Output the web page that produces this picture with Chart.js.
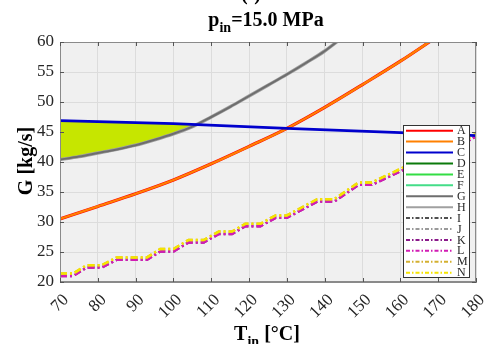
<!DOCTYPE html>
<html>
<head>
<meta charset="utf-8">
<script src="https://cdn.jsdelivr.net/npm/chart.js@4.4.1/dist/chart.umd.min.js"></script>
<style>
  body { margin: 0; background: #ffffff; }
  #wrap { width: 491px; height: 344px; }
</style>
</head>
<body>
<div id="wrap"><canvas id="chart" width="491" height="344"></canvas></div>
<script>
// Valores (T_in em °C, G em kg/s)
const xTickVals = [70, 80, 90, 100, 110, 120, 130, 140, 150, 160, 170, 180];
const yTickVals = [20, 25, 30, 35, 40, 45, 50, 55, 60];

const curveBT = [70, 80, 90, 100, 110, 120, 130, 140, 150, 160, 170];
const curveBG = [30.5, 32.6, 34.7, 37.0, 39.7, 42.6, 45.6, 49.1, 52.9, 56.8, 61.0];

const curveCT = [70, 100, 130, 160, 180];
const curveCG = [46.9, 46.4, 45.6, 44.9, 44.4];

const curveGT = [70, 75, 80, 85, 90, 95, 100, 105, 110, 115, 120, 125, 130, 135, 140, 145];
const curveGG = [40.4, 40.9, 41.5, 42.1, 42.8, 43.7, 44.7, 45.9, 47.5, 49.2, 51.0, 52.8, 54.6, 56.5, 58.5, 60.9];

const stepT  = [70, 73.5, 77, 81, 85, 93, 96.5, 100, 104, 108, 112, 115.5, 119, 123, 127, 130, 138, 142.5, 149, 152.5, 160.5, 163, 167, 173, 176.5, 180];
const stepKL = [21.0, 21.0, 22.4, 22.4, 23.7, 23.7, 25.1, 25.1, 26.6, 26.6, 28.0, 28.0, 29.3, 29.3, 30.7, 30.7, 33.4, 33.4, 36.2, 36.2, 38.6, 39.4, 39.4, 42.0, 43.0, 44.3];
const stepMN = [21.4, 21.4, 22.8, 22.8, 24.1, 24.1, 25.5, 25.5, 27.0, 27.0, 28.4, 28.4, 29.7, 29.7, 31.1, 31.1, 33.8, 33.8, 36.6, 36.6, 39.0, 39.8, 39.8, 42.4, 43.4, 44.7];

const serif = "'Liberation Serif', 'Times New Roman', serif";
const fillColor = '#c6e600';

// monta pares {x, y}
const pts = (xs, ys) => xs.map((x, i) => ({ x: x, y: ys[i] }));

const dashDot = [7, 3, 2, 3];

function serie(label, color, data, extra = {}) {
  return Object.assign({
    label: label,
    data: data,
    borderColor: color,
    backgroundColor: color,
    borderWidth: 2.5,
    pointRadius: 0,
    fill: false,
    clip: 0
  }, extra);
}

const datasets = [
  serie('A', '#ff0000', pts(curveBT, curveBG), { order: 20, borderWidth: 3.2, cubicInterpolationMode: 'monotone' }),
  serie('B', '#ff8000', pts(curveBT, curveBG), { order: 19, borderWidth: 2.2, cubicInterpolationMode: 'monotone' }),
  serie('C', '#0000cd', pts(curveCT, curveCG), { order: 10, borderWidth: 2.6 }),
  serie('D', '#0b7a0b', []),
  serie('E', '#33dd44', []),
  serie('F', '#44dd88', []),
  // preenchimento entre G e C (onde G fica abaixo de C)
  serie('G', '#6e6e6e', pts(curveGT, curveGG), {
    order: 11, borderWidth: 2, cubicInterpolationMode: 'monotone',
    fill: { target: 2, above: 'rgba(0,0,0,0)', below: fillColor }
  }),
  serie('H', '#a0a0a0', pts(curveGT, curveGG), { order: 12, borderWidth: 3.4, cubicInterpolationMode: 'monotone' }),
  serie('I', '#505050', [], { borderDash: dashDot }),
  serie('J', '#9a9a9a', [], { borderDash: dashDot }),
  serie('K', '#8b1a8b', pts(stepT, stepKL), { order: 16, borderDash: dashDot }),
  serie('L', '#d21cb4', pts(stepT, stepKL), { order: 15, borderDash: dashDot }),
  serie('M', '#d4b030', pts(stepT, stepMN), { order: 14, borderDash: dashDot }),
  serie('N', '#f5e400', pts(stepT, stepMN), { order: 13, borderDash: dashDot })
];

// fundo cinza da área do gráfico
const plotBg = {
  id: 'plotBg',
  beforeDraw(chart) {
    const { ctx, chartArea: a } = chart;
    ctx.save();
    ctx.fillStyle = '#f0f0f0';
    ctx.fillRect(a.left, a.top, a.width, a.height);
    ctx.restore();
  }
};

// texto com subscrito
function drawParts(ctx, parts, cx, baseline) {
  let total = 0;
  parts.forEach(p => { ctx.font = p.font; p.w = ctx.measureText(p.text).width; total += p.w; });
  let x = cx - total / 2;
  ctx.textAlign = 'left';
  ctx.textBaseline = 'alphabetic';
  parts.forEach(p => {
    ctx.font = p.font;
    ctx.fillText(p.text, x, baseline + (p.dy || 0));
    x += p.w;
  });
}

const decor = {
  id: 'decor',
  afterDraw(chart) {
    const { ctx, chartArea: a, scales } = chart;
    ctx.save();

    // moldura e ticks internos
    ctx.strokeStyle = '#8a8a8a';
    ctx.lineWidth = 1;
    ctx.strokeRect(a.left + 0.5, a.top + 0.5, a.width - 1, a.height - 1);
    ctx.strokeStyle = '#555555';
    ctx.beginPath();
    xTickVals.forEach(v => {
      const px = Math.round(scales.x.getPixelForValue(v)) + 0.5;
      ctx.moveTo(px, a.top); ctx.lineTo(px, a.top + 4);
      ctx.moveTo(px, a.bottom); ctx.lineTo(px, a.bottom - 4);
    });
    yTickVals.forEach(v => {
      const py = Math.round(scales.y.getPixelForValue(v)) + 0.5;
      ctx.moveTo(a.left, py); ctx.lineTo(a.left + 4, py);
      ctx.moveTo(a.right, py); ctx.lineTo(a.right - 4, py);
    });
    ctx.stroke();

    // legenda
    const lx = 403, ly = 125, lw = 66, lh = 152;
    ctx.fillStyle = '#ffffff';
    ctx.fillRect(lx, ly, lw, lh);
    ctx.strokeStyle = '#333333';
    ctx.strokeRect(lx + 0.5, ly + 0.5, lw, lh);
    chart.data.datasets.forEach((ds, i) => {
      const y = ly + 5.7 + i * 10.92;
      ctx.beginPath();
      ctx.setLineDash(ds.borderDash ? [4, 2, 1.5, 2] : []);
      ctx.strokeStyle = ds.borderColor;
      ctx.lineWidth = 2;
      ctx.moveTo(lx + 3, y);
      ctx.lineTo(lx + 50, y);
      ctx.stroke();
      ctx.setLineDash([]);
      ctx.fillStyle = '#262626';
      ctx.font = '12px ' + serif;
      ctx.textAlign = 'left';
      ctx.textBaseline = 'middle';
      ctx.fillText(ds.label, lx + 54, y + 0.5);
    });

    // títulos
    ctx.fillStyle = '#000000';
    const big = 'bold 20px ' + serif, small = 'bold 14px ' + serif;
    ctx.font = big;
    ctx.textAlign = 'center';
    ctx.textBaseline = 'alphabetic';
    ctx.fillText('(f)', 251, 0);
    drawParts(ctx, [
      { text: 'p', font: big },
      { text: 'in', font: small, dy: 6 },
      { text: '=15.0 MPa', font: big }
    ], 266, 26);
    drawParts(ctx, [
      { text: 'T', font: big },
      { text: 'in', font: small, dy: 6 },
      { text: ' [°C]', font: big }
    ], 267, 340);

    ctx.save();
    ctx.translate(32, 161);
    ctx.rotate(-Math.PI / 2);
    ctx.font = big;
    ctx.textAlign = 'center';
    ctx.fillText('G [kg/s]', 0, 0);
    ctx.restore();

    ctx.restore();
  }
};

new Chart(document.getElementById('chart'), {
  type: 'line',
  data: { datasets: datasets },
  options: {
    responsive: false,
    animation: false,
    devicePixelRatio: 1,
    layout: { padding: { top: 42, right: 15, left: 0, bottom: 0 } },
    plugins: {
      legend: { display: false },
      title: { display: false },
      tooltip: { enabled: false },
      filler: { drawTime: 'beforeDatasetsDraw' }
    },
    scales: {
      x: {
        type: 'linear',
        min: 70,
        max: 180,
        afterBuildTicks: s => { s.ticks = xTickVals.map(v => ({ value: v })); },
        afterFit: s => { s.height = 62; s.paddingLeft = 0; s.paddingRight = 0; },
        ticks: {
          autoSkip: false,
          minRotation: 45,
          maxRotation: 45,
          labelOffset: 6,
          padding: 8,
          color: '#262626',
          font: { family: serif, size: 17 }
        },
        grid: { color: '#dcdcdc', drawTicks: false },
        border: { color: '#8a8a8a' }
      },
      y: {
        type: 'linear',
        min: 20,
        max: 60,
        afterBuildTicks: s => { s.ticks = yTickVals.map(v => ({ value: v })); },
        afterFit: s => { s.width = 60; s.paddingTop = 0; s.paddingBottom = 0; },
        ticks: {
          padding: 6,
          color: '#262626',
          font: { family: serif, size: 17 }
        },
        grid: { color: '#dcdcdc', drawTicks: false },
        border: { color: '#8a8a8a' }
      }
    }
  },
  plugins: [plotBg, decor]
});
</script>
</body>
</html>
